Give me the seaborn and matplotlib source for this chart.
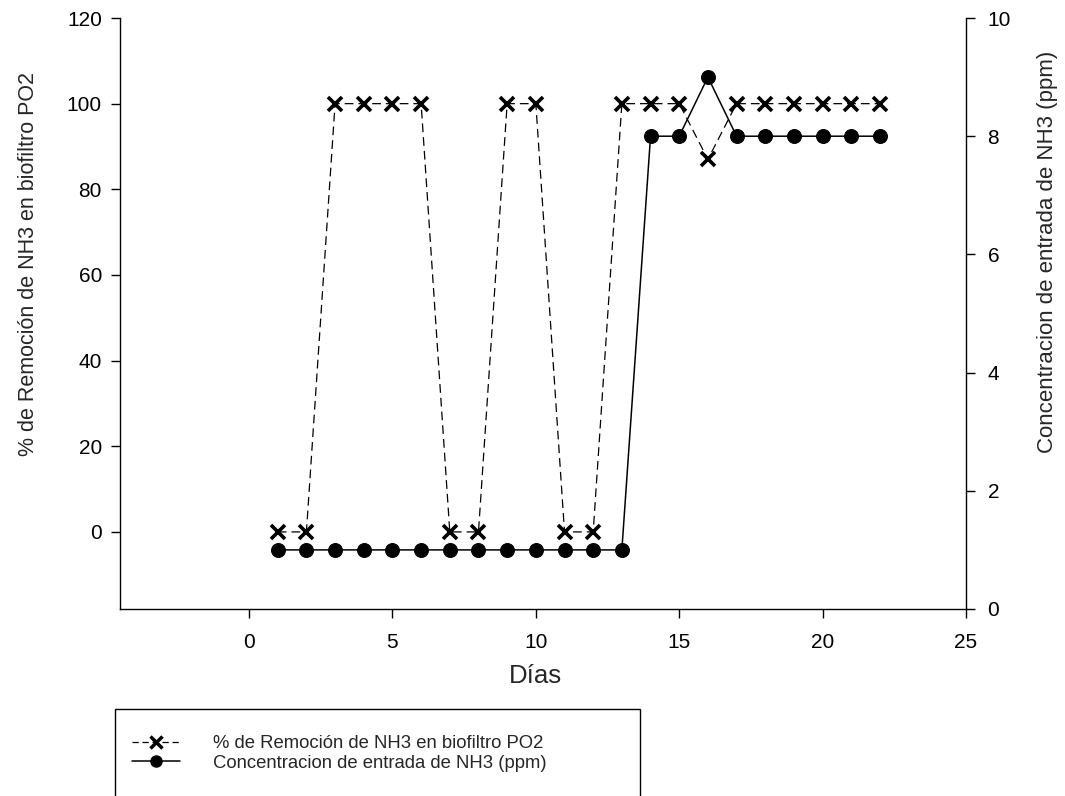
import matplotlib
matplotlib.use("Agg")
import matplotlib.pyplot as plt
from matplotlib.lines import Line2D
from matplotlib.patches import Rectangle
import pandas as pd
import seaborn as sns

dias = list(range(1, 23))
remocion = [0, 0, 100, 100, 100, 100, 0, 0, 100, 100, 0, 0,
            100, 100, 100, 87, 100, 100, 100, 100, 100, 100]
concentracion = [1, 1, 1, 1, 1, 1, 1, 1, 1, 1, 1, 1, 1,
                 8, 8, 9, 8, 8, 8, 8, 8, 8]

label_rem = "% de Remoción de NH3 en biofiltro PO2"
label_conc = "Concentracion de entrada de NH3 (ppm)"
x_ticks = [0, 5, 10, 15, 20, 25]
y_left_ticks = [0, 20, 40, 60, 80, 100, 120]
y_right_ticks = [0, 2, 4, 6, 8, 10]

sns.set_theme(style="ticks")
plt.rcParams["font.family"] = ["Liberation Sans", "DejaVu Sans"]

df = pd.DataFrame({"dia": dias, "rem": remocion, "conc": concentracion})

W, H = 1065, 796
fig = plt.figure(figsize=(W / 100, H / 100), dpi=100)
# axes box in pixels: x 120..966, y 18..609
ax = fig.add_axes([120 / W, 1 - 609 / H, 846 / W, 591 / H])
ax2 = ax.twinx()

sns.lineplot(data=df, x="dia", y="rem", ax=ax, color="black", linewidth=0.9,
             linestyle=(0, (7, 4)), marker="x", markersize=10,
             markeredgewidth=2.6, markeredgecolor="black")
sns.lineplot(data=df, x="dia", y="conc", ax=ax2, color="black", linewidth=1.1,
             marker="o", markersize=10, markerfacecolor="black",
             markeredgecolor="black")

ax.set_xlim(-4.5, 25)
ax.set_ylim(-18, 120)
ax2.set_ylim(0, 10)
ax.set_xticks(x_ticks)
ax.set_yticks(y_left_ticks)
ax2.set_yticks(y_right_ticks)

ax.set_xlabel("Días", fontsize=18.5, va="baseline")
ax.xaxis.set_label_coords((535 - 120) / 846, -(683 - 609) / 591)
ax.set_ylabel(label_rem, fontsize=15.5, va="center")
ax.yaxis.set_label_coords((29 - 120) / 846, (609 - 264) / 591)
ax2.set_ylabel(label_conc, fontsize=16, va="center")
ax2.yaxis.set_label_coords((1048 - 120) / 846, (609 - 252) / 591)

for a in (ax, ax2):
    a.spines["top"].set_visible(False)
    for s in a.spines.values():
        s.set_linewidth(1.0)
        s.set_color("black")
    a.tick_params(direction="out", length=6.5, width=1, labelsize=15,
                  colors="black")
    a.grid(False)
ax.tick_params(axis="y", pad=6.5)
ax.tick_params(axis="x", pad=11)
ax2.tick_params(axis="y", pad=9)
ax.spines["right"].set_visible(False)
ax2.spines["left"].set_visible(False)
ax2.spines["bottom"].set_visible(False)

handles = [
    Line2D([], [], color="black", linewidth=0.9, linestyle=(0, (5, 3)),
           marker="x", markersize=8, markeredgewidth=2.5),
    Line2D([], [], color="black", linewidth=1.1, marker="o", markersize=8),
]
fig.legend(handles, [label_rem, label_conc], loc="upper left",
           bbox_to_anchor=(132 / W, 1 - 735 / H), frameon=False,
           fontsize=13.3, handlelength=2.6, handletextpad=1.8,
           labelspacing=0.15, borderaxespad=0, borderpad=0)

fig.patches.append(Rectangle((115 / W, -0.05), 525 / W, 0.05 + 1 - 709 / H,
                             transform=fig.transFigure, fill=False,
                             edgecolor="black", linewidth=1.0))

fig.savefig("out.png", dpi=100)
